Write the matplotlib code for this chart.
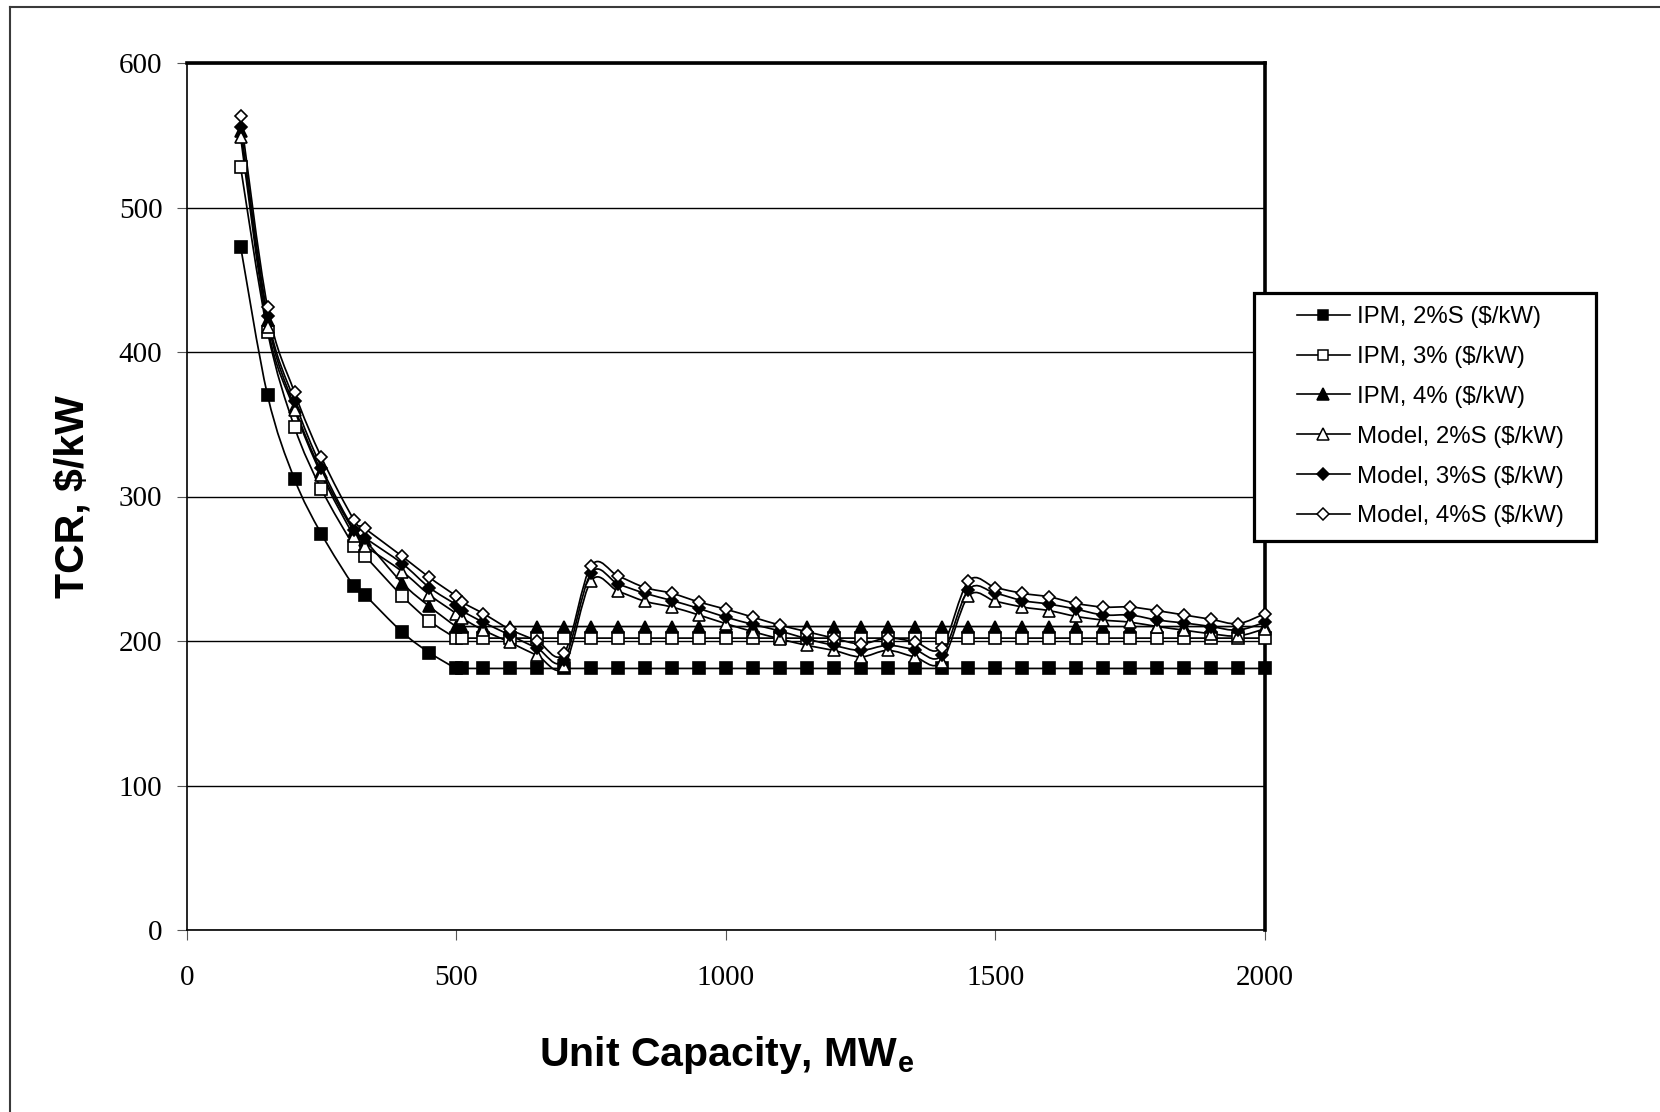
import numpy as np
import matplotlib
matplotlib.use('Agg')
import matplotlib.pyplot as plt
from matplotlib.lines import Line2D  # legend proxies
from matplotlib.path import Path
from matplotlib.patches import PathPatch
from matplotlib.legend_handler import HandlerLine2D

plt.rcParams['font.family'] = 'Liberation Sans'
plt.rcParams['mathtext.fontset'] = 'custom'
plt.rcParams['mathtext.rm'] = 'Liberation Sans'
plt.rcParams['mathtext.bf'] = 'Liberation Sans:bold'

# Unit capacity (MWe)
capacity = [100, 150, 200, 250, 310, 330, 400, 450, 500, 510,
            550, 600, 650, 700, 750, 800, 850, 900, 950, 1000,
            1050, 1100, 1150, 1200, 1250, 1300, 1350, 1400, 1450, 1500,
            1550, 1600, 1650, 1700, 1750, 1800, 1850, 1900, 1950, 2000]

# TCR, $/kW
ipm_2s = [473, 370, 312, 274, 238, 232, 206, 192, 181, 181,
          181, 181, 181, 181, 181, 181, 181, 181, 181, 181,
          181, 181, 181, 181, 181, 181, 181, 181, 181, 181,
          181, 181, 181, 181, 181, 181, 181, 181, 181, 181]
ipm_3 = [528, 414, 348, 305, 266, 259, 231, 214, 202, 202,
         202, 202, 202, 202, 202, 202, 202, 202, 202, 202,
         202, 202, 202, 202, 202, 202, 202, 202, 202, 202,
         202, 202, 202, 202, 202, 202, 202, 202, 202, 202]
ipm_4 = [553, 422, 362, 317, 276, 270, 240, 224, 210, 210,
         210, 210, 210, 210, 210, 210, 210, 210, 210, 210,
         210, 210, 210, 210, 210, 210, 210, 210, 210, 210,
         210, 210, 210, 210, 210, 210, 210, 210, 210, 210]
model_2s = [549, 417, 360, 315, 273, 266, 248, 232, 219, 216,
            207.5, 199, 190, 182.5, 241.5, 234.5, 227.5, 223.5, 218, 212,
            206.5, 201.5, 197, 193.5, 189, 193.5, 189, 185.5, 231, 227.5,
            223.5, 221, 217, 214.5, 213, 210, 207.5, 205, 203.5, 208.5]
model_3s = [556, 425, 366, 320, 277, 271.5, 253.5, 237, 225, 221,
            213, 204, 195, 187, 247, 239.5, 233, 228, 222.5, 216.5,
            211.5, 207, 201.5, 197, 193.5, 197, 194, 190, 235.5, 233,
            228, 225.5, 222, 218, 218, 214.5, 212.5, 210, 207.5, 213]
model_4s = [563.5, 431, 372, 327, 284, 278, 258.5, 244, 231, 227,
            219, 208, 200, 191.5, 252, 245, 237, 233, 227, 222,
            216.5, 211, 206.5, 202, 198, 202, 199.5, 195.5, 241.5, 237,
            233, 230.5, 226, 223.5, 223.5, 221, 218, 215, 212, 219]

series_names = ['IPM, 2%S ($/kW)', 'IPM, 3% ($/kW)', 'IPM, 4% ($/kW)',
                'Model, 2%S ($/kW)', 'Model, 3%S ($/kW)', 'Model, 4%S ($/kW)']
series_values = [ipm_2s, ipm_3, ipm_4, model_2s, model_3s, model_4s]
series_styles = [('s', 'black', 8.3), ('s', 'white', 8.3), ('^', 'black', 9.0),
                 ('^', 'white', 9.0), ('D', 'black', 6.4), ('D', 'white', 6.4)]


def smooth_path(xs, ys):
    # Catmull-Rom style cubic Bezier through the points (spreadsheet "smoothed line")
    pts = np.column_stack([xs, ys]).astype(float)
    padded = np.vstack([pts[0], pts, pts[-1]])
    verts = [pts[0]]
    codes = [Path.MOVETO]
    for i in range(len(pts) - 1):
        p0, p1, p2, p3 = padded[i], padded[i + 1], padded[i + 2], padded[i + 3]
        verts += [p1 + (p2 - p0) / 6, p2 - (p3 - p1) / 6, p2]
        codes += [Path.CURVE4] * 3
    return Path(verts, codes)


W, H = 1660, 1112
fig = plt.figure(figsize=(W / 100, H / 100), dpi=100)
ax = fig.add_axes([186.7 / W, 1 - 930 / H, (1265 - 186.7) / W, (930 - 63) / H])

for vals, (mk, face, ms) in zip(series_values, series_styles):
    ax.add_patch(PathPatch(smooth_path(capacity, vals), facecolor='none',
                           edgecolor='black', lw=1.25, zorder=3))
    ax.plot(capacity, vals, ls='none', marker=mk, ms=ms, mfc=face, mec='black',
            mew=1.2, zorder=4, clip_on=False)

ax.set_xlim(0, 2000)
ax.set_ylim(0, 600)
ax.set_xticks([0, 500, 1000, 1500, 2000])
ax.set_yticks([0, 100, 200, 300, 400, 500, 600])
ax.yaxis.grid(True, color='black', lw=1.0)
ax.set_axisbelow(True)

for side in ['left', 'bottom']:
    ax.spines[side].set_linewidth(1.2)
for side in ['top', 'right']:
    ax.spines[side].set_linewidth(2.6)

ax.tick_params(direction='out', length=7.5, width=0.8, color='#555555',
               labelsize=21, labelfontfamily='Liberation Serif')
ax.tick_params(axis='y', pad=10)
ax.tick_params(axis='x', pad=18)

fig.text(73 / W, 1 - 497 / H, 'TCR, $/kW', rotation=90, ha='center', va='center',
         fontsize=29.5, fontweight='bold')
fig.text(727 / W, 1 - 1034 / H, r'Unit Capacity, MW$_\mathbf{e}$', ha='center', va='top',
         fontsize=29.5, fontweight='bold')

# legend
clabel = [Line2D([0], [0], color='black', lw=1.2, marker=mk, ms=ms * 0.95, mfc=face,
                 mec='black', mew=1.1)
          for (mk, face, ms) in series_styles]
leg = ax.legend(clabel, series_names, loc='upper left',
                bbox_to_anchor=(1254 / W, 1 - 540 / H, 342 / W, 247 / H),
                bbox_transform=fig.transFigure, mode='expand', borderaxespad=0,
                borderpad=0.55, handlelength=3.45, handletextpad=0.29,
                labelspacing=0.745, fancybox=False, framealpha=1,
                edgecolor='black', prop={'family': 'Liberation Sans', 'size': 17.25},
                handler_map={Line2D: HandlerLine2D(xpad=1.24)})
leg.get_frame().set_linewidth(2.3)

# chart-area border
fig.add_artist(Line2D([9.5 / W, 9.5 / W], [0, 1 - 6.5 / H], color='#3a3a3a', lw=1.5))
fig.add_artist(Line2D([9.5 / W, 1], [1 - 6.5 / H, 1 - 6.5 / H], color='#3a3a3a', lw=1.5))

fig.savefig('out.png', dpi=100)
